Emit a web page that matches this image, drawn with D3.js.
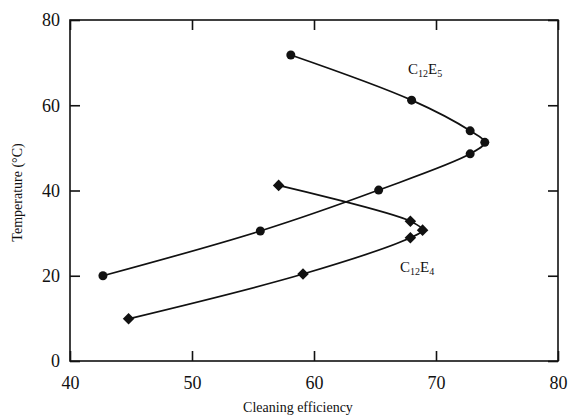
<!DOCTYPE html>
<html>
<head>
<meta charset="utf-8">
<script src="https://cdn.jsdelivr.net/npm/d3@7"></script>
<style>
  body { margin: 0; background: #fff; }
  text { font-family: "Liberation Serif", "DejaVu Serif", serif; fill: #111; }
</style>
</head>
<body>
<script>
// C12E5 series (circles), in drawing order along the curve
const e5Efficiency = [58.1, 68.0, 72.8, 74.0, 72.8, 65.3, 55.6, 42.7];
const e5Temp       = [71.8, 61.2, 54.0, 51.3, 48.6, 40.1, 30.5, 20.0];
// C12E4 series (diamonds)
const e4Efficiency = [57.1, 67.9, 68.9, 67.9, 59.1, 44.8];
const e4Temp       = [41.2, 32.8, 30.7, 28.9, 20.4, 9.9];

const xTicks = [40, 50, 60, 70, 80];
const yTicks = [0, 20, 40, 60, 80];

const width = 570, height = 419;
const margin = {left: 70, right: 12, top: 20, bottom: 58};

const svg = d3.select("body").append("svg")
    .attr("width", width)
    .attr("height", height);

const x = d3.scaleLinear().domain([40, 80]).range([margin.left, width - margin.right]);
const y = d3.scaleLinear().domain([0, 80]).range([height - margin.bottom, margin.top]);

const tickLen = 10;
const axisStroke = "#111";

// frame
svg.append("rect")
    .attr("x", x(40)).attr("y", y(80))
    .attr("width", x(80) - x(40)).attr("height", y(0) - y(80))
    .attr("fill", "none").attr("stroke", axisStroke).attr("stroke-width", 1.6);

// axes with inward ticks
svg.append("g")
    .attr("transform", "translate(0," + y(0) + ")")
    .call(d3.axisBottom(x).tickValues(xTicks).tickSizeInner(-tickLen).tickSizeOuter(0).tickPadding(15));
svg.append("g")
    .attr("transform", "translate(" + x(40) + ",0)")
    .call(d3.axisLeft(y).tickValues(yTicks).tickSizeInner(-tickLen).tickSizeOuter(0).tickPadding(10));
svg.append("g")
    .attr("transform", "translate(0," + y(80) + ")")
    .call(d3.axisTop(x).tickValues(xTicks).tickSizeInner(-tickLen).tickSizeOuter(0).tickFormat(""));
svg.append("g")
    .attr("transform", "translate(" + x(80) + ",0)")
    .call(d3.axisRight(y).tickValues(yTicks).tickSizeInner(-tickLen).tickSizeOuter(0).tickFormat(""));

svg.selectAll(".domain").remove();
svg.selectAll(".tick line").attr("stroke", axisStroke).attr("stroke-width", 1.6);
svg.selectAll(".tick text")
    .style("font-family", "'Liberation Serif', serif")
    .style("font-size", "18px")
    .attr("fill", "#111");

// axis titles
svg.append("text")
    .attr("x", (x(40) + x(80)) / 2 - 16)
    .attr("y", 412)
    .attr("text-anchor", "middle")
    .style("font-size", "14px")
    .text("Cleaning efficiency");

svg.append("text")
    .attr("transform", "translate(22," + (y(40) + 2) + ") rotate(-90)")
    .attr("text-anchor", "middle")
    .style("font-size", "14px")
    .text("Temperature (°C)");

// series
const line = d3.line()
    .x(d => x(d[0]))
    .y(d => y(d[1]))
    .curve(d3.curveCatmullRom.alpha(0.5));

const e5 = e5Efficiency.map((v, i) => [v, e5Temp[i]]);
const e4 = e4Efficiency.map((v, i) => [v, e4Temp[i]]);

[e5, e4].forEach(s => {
    svg.append("path")
        .datum(s)
        .attr("d", line)
        .attr("fill", "none")
        .attr("stroke", "#111")
        .attr("stroke-width", 1.7);
});

svg.selectAll("circle.e5")
    .data(e5)
    .enter().append("circle")
    .attr("class", "e5")
    .attr("cx", d => x(d[0]))
    .attr("cy", d => y(d[1]))
    .attr("r", 4.5)
    .attr("fill", "#111");

svg.selectAll("path.e4")
    .data(e4)
    .enter().append("path")
    .attr("class", "e4")
    .attr("d", d3.symbol().type(d3.symbolDiamond2).size(85))
    .attr("transform", d => "translate(" + x(d[0]) + "," + y(d[1]) + ")")
    .attr("fill", "#111");

// labels
function chemLabel(px, py, sub1, sub2) {
    const t = svg.append("text")
        .attr("x", px).attr("y", py)
        .style("font-size", "15px");
    t.append("tspan").text("C");
    t.append("tspan").attr("dy", 3).style("font-size", "10px").text(sub1);
    t.append("tspan").attr("dy", -3).text("E");
    t.append("tspan").attr("dy", 3).style("font-size", "10px").text(sub2);
}
chemLabel(408, 74, "12", "5");
chemLabel(400, 272, "12", "4");
</script>
</body>
</html>
